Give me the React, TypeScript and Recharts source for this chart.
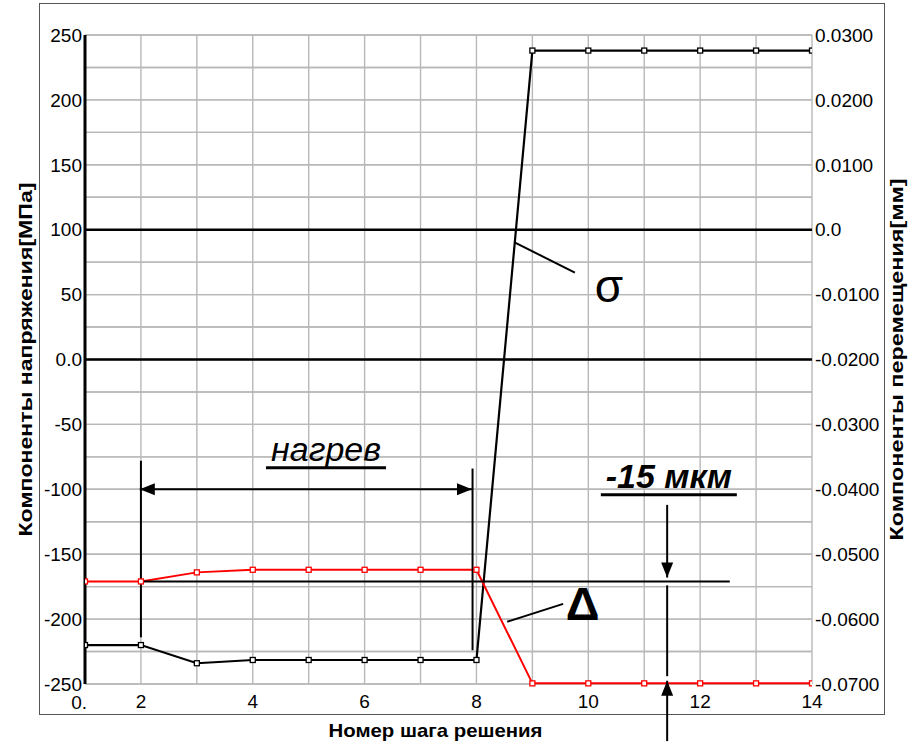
import * as React from "react";
import {
    LineChart,
    Line,
    XAxis,
    YAxis,
    CartesianGrid,
    ReferenceLine,
    ReferenceDot
} from "recharts";

const FONT = '"Liberation Sans", Arial, sans-serif';

// solution step numbers and the two recorded components
const steps = [1, 2, 3, 4, 5, 6, 7, 8, 9, 10, 11, 12, 13, 14];
const sigmaMPa = [-220, -220, -234, -231.5, -231.5, -231.5, -231.5, -231.5, 238, 238, 238, 238, 238, 238];
const deltaMm = [-0.0542, -0.0542, -0.0528, -0.0524, -0.0524, -0.0524, -0.0524, -0.0524,
    -0.0699, -0.0699, -0.0699, -0.0699, -0.0699, -0.0699];

// tick values (labels only on every other stress line and on even steps)
const stepLabels = [1, 2, 4, 6, 8, 10, 12, 14];
const dispTicks = [-0.07, -0.06, -0.05, -0.04, -0.03, -0.02, -0.01, 0, 0.01, 0.02, 0.03];
const stressGrid = [-250, -225, -200, -175, -150, -125, -100, -75, -50, -25, 0,
    25, 50, 75, 100, 125, 150, 175, 200, 225, 250];

// annotations, in step / MPa units
const heatFrom = 1.98;
const heatTo = 7.92;
const heatLevel = -100;
const heatMarks = [{ x: 2, top: -78, bottom: -214 }, { x: 7.93, top: -84, bottom: -224 }];
const shiftRefEnd = 12.53;
const shiftX = 11.41;

const data = steps.map((s, i) => ({ step: s, sigma: sigmaMPa[i], delta: deltaMm[i] }));

const squareDot = (color: string) => (p: any) =>
    <rect key={`d${p.index}`} x={p.cx - 2.5} y={p.cy - 2.5} width={5} height={5}
        fill="#fff" stroke={color} strokeWidth={1.3} />;

const arrowHead = (x: number, y: number, fromX: number, fromY: number) => {
    const len = Math.hypot(x - fromX, y - fromY) || 1;
    const ux = (x - fromX) / len, uy = (y - fromY) / len;
    const bx = x - ux * 15, by = y - uy * 15;
    const pts = `${x},${y} ${bx - uy * 6},${by + ux * 6} ${bx + uy * 6},${by - ux * 6}`;
    return <polygon points={pts} fill="#000" />;
};

const Arrow = (both: boolean) => (p: any) => {
    const { x1, y1, x2, y2 } = p;
    return <g>
        <line x1={x1} y1={y1} x2={x2} y2={y2} stroke="#000" strokeWidth={2} />
        {arrowHead(x2, y2, x1, y1)}
        {both && arrowHead(x1, y1, x2, y2)}
    </g>;
};

const StepTick = (p: any) => {
    const { x, y, payload } = p;
    if (!stepLabels.includes(payload.value)) return <g />;
    const first = payload.value === 1;
    return <text x={first ? x + 2 : x} y={y + (first ? 1 : 0)} dy="0.71em"
        textAnchor={first ? "end" : "middle"} fill="#000" fontSize={19} fontFamily={FONT}>
        {first ? "0." : payload.value}
    </text>;
};

const sideTitle = (text: string, dx: number, len: number) => (p: any) => {
    const { x, y, height } = p.viewBox;
    const cx = x + dx, cy = y + height / 2;
    return <text x={cx} y={cy} transform={`rotate(-90 ${cx} ${cy})`} textAnchor="middle"
        dominantBaseline="central" fontSize={19} fontWeight="bold" fontFamily={FONT}
        textLength={len} lengthAdjust="spacingAndGlyphs">{text}</text>;
};

const bottomTitle = (p: any) => {
    const { x, y, width } = p.viewBox;
    return <text x={x + width / 2 - 13} y={y + 46} textAnchor="middle" dominantBaseline="central"
        fontSize={19} fontWeight="bold" fontFamily={FONT}
        textLength={214} lengthAdjust="spacingAndGlyphs">Номер шага решения</text>;
};

const Caption = (text: string, size: number, style: any, underline?: number) => (p: any) =>
    <g>
        <text x={p.cx} y={p.cy} textAnchor="middle" fontSize={size} fontFamily={FONT}
            fill="#000" {...style}>{text}</text>
        {underline && <line x1={p.cx - underline} x2={p.cx + underline} y1={p.cy + 7} y2={p.cy + 7}
            stroke="#000" strokeWidth={3} />}
    </g>;

const Symbol = (text: string, size: number, bold: boolean) => (p: any) =>
    <text x={p.cx} y={p.cy} textAnchor="middle" dominantBaseline="central" fontSize={size}
        fontWeight={bold ? "bold" : "normal"} fontFamily={FONT} fill="#000">{text}</text>;

const thin = (p: any) =>
    <line x1={p.x1} y1={p.y1} x2={p.x2} y2={p.y2} stroke="#000" strokeWidth={2} />;

const gridRule = (p: any) =>
    <line x1={p.x1} y1={p.y1} x2={p.x2} y2={p.y2} stroke="#b8b8b8" strokeWidth={1.4} />;

export default function App() {
    return <div style={{ position: "absolute", left: 0, top: 0, width: 913, height: 745, background: "#fff" }}>
        <div style={{
            position: "absolute", left: 39, top: 3, width: 846, height: 712,
            border: "1px solid #555", boxSizing: "border-box"
        }} />
        <LineChart width={913} height={745} data={data} style={{ position: "absolute", left: 0, top: 0 }}
            margin={{ top: 35, right: 0, bottom: 0, left: 0 }}>
            <XAxis dataKey="step" type="number" domain={[1, 14]} ticks={steps} allowDataOverflow
                interval={0} height={61} axisLine={false} tickLine={false} tickSize={0} tickMargin={11}
                tick={<StepTick />} label={{ content: bottomTitle }} />
            <YAxis yAxisId="left" domain={[-250, 250]} ticks={stressGrid} interval={0} width={85}
                axisLine={{ stroke: "#000", strokeWidth: 3 }} tickLine={false} tickSize={0} tickMargin={3}
                tick={{ fill: "#000", fontSize: 19, fontFamily: FONT }}
                tickFormatter={(v: number) => v % 50 !== 0 ? "" : v === 0 ? "0.0" : String(v)}
                label={{ content: sideTitle("Компоненты напряжения[МПа]", 25, 354) }} />
            <YAxis yAxisId="right" orientation="right" domain={[-0.07, 0.03]} ticks={dispTicks}
                interval={0} width={101} axisLine={false} tickLine={false} tickSize={0} tickMargin={3}
                tick={{ fill: "#000", fontSize: 19, fontFamily: FONT }}
                tickFormatter={(v: number) => v === 0 ? "0.0" : v.toFixed(4)}
                label={{ content: sideTitle("Компоненты перемещения[мм]", 84, 362) }} />
            <CartesianGrid yAxisId="left" stroke="#b8b8b8" strokeWidth={1.4} />

            {/* stress grid every 25 MPa */}
            {stressGrid.map(v =>
                <ReferenceLine key={`g${v}`} yAxisId="left" shape={gridRule}
                    segment={[{ x: 1, y: v }, { x: 14, y: v }]} />)}

            <ReferenceLine yAxisId="left" y={0} stroke="#000" strokeWidth={2.5} />
            <ReferenceLine yAxisId="right" y={0} stroke="#000" strokeWidth={2.5} />

            <Line yAxisId="left" dataKey="sigma" type="linear" stroke="#000" strokeWidth={2.2}
                dot={squareDot("#000")} isAnimationActive={false} />
            <Line yAxisId="right" dataKey="delta" type="linear" stroke="#ff0000" strokeWidth={2}
                dot={squareDot("#ff0000")} isAnimationActive={false} />

            {/* heating interval */}
            {heatMarks.map(m =>
                <ReferenceLine key={m.x} yAxisId="left" shape={thin}
                    segment={[{ x: m.x, y: m.top }, { x: m.x, y: m.bottom }]} />)}
            <ReferenceLine yAxisId="left" shape={Arrow(true)}
                segment={[{ x: heatFrom, y: heatLevel }, { x: heatTo, y: heatLevel }]} />
            <ReferenceDot yAxisId="left" x={5.31} y={-78} r={0}
                shape={Caption("нагрев", 34, { fontStyle: "italic" }, 60)} />

            {/* residual displacement */}
            <ReferenceLine yAxisId="right" shape={thin}
                segment={[{ x: 2, y: deltaMm[0] }, { x: shiftRefEnd, y: deltaMm[0] }]} />
            <ReferenceLine yAxisId="left" shape={Arrow(false)}
                segment={[{ x: shiftX, y: -112 }, { x: shiftX, y: -168 }]} />
            <ReferenceLine yAxisId="left" shape={thin}
                segment={[{ x: shiftX, y: -174 }, { x: shiftX, y: -244 }]} />
            <ReferenceLine yAxisId="left" shape={Arrow(false)} ifOverflow="visible"
                segment={[{ x: shiftX, y: -294 }, { x: shiftX, y: -247.5 }]} />
            <ReferenceDot yAxisId="left" x={11.44} y={-98.8} r={0}
                shape={Caption("-15 мкм", 34, { fontStyle: "italic", fontWeight: "bold" }, 68)} />

            {/* series labels */}
            <ReferenceLine yAxisId="left" shape={thin}
                segment={[{ x: 8.69, y: 90 }, { x: 9.76, y: 67 }]} />
            <ReferenceDot yAxisId="left" x={10.37} y={56.7} r={0} shape={Symbol("σ", 46, false)} />
            <ReferenceLine yAxisId="left" shape={thin}
                segment={[{ x: 8.55, y: -202 }, { x: 9.55, y: -188.3 }]} />
            <ReferenceDot yAxisId="left" x={9.9} y={-188.3} r={0} shape={Symbol("Δ", 47, true)} />
        </LineChart>
    </div>;
}
